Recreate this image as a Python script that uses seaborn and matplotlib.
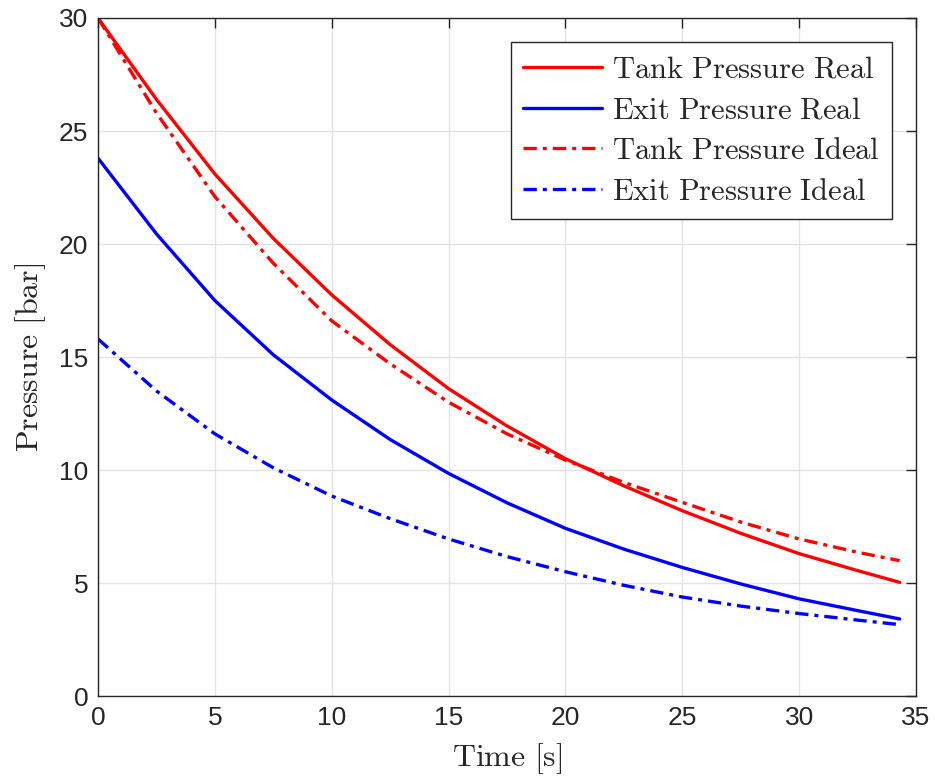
import numpy as np
import pandas as pd
import seaborn as sns
import matplotlib.pyplot as plt

time_s = [0, 2.5, 5, 7.5, 10, 12.5, 15, 17.5, 20, 22.5, 25, 27.5, 30, 32.5, 34.3]
tank_real = [30, 26.4, 23.1, 20.25, 17.75, 15.55, 13.6, 11.95, 10.5, 9.3, 8.2, 7.2, 6.3, 5.55, 5.03]
exit_real = [23.8, 20.45, 17.5, 15.1, 13.1, 11.35, 9.85, 8.55, 7.42, 6.5, 5.69, 4.96, 4.3, 3.78, 3.41]
tank_ideal = [30, 25.8, 22.1, 19.15, 16.6, 14.7, 13.0, 11.6, 10.44, 9.45, 8.57, 7.7, 6.95, 6.36, 5.99]
exit_ideal = [15.8, 13.5, 11.6, 10.1, 8.85, 7.85, 6.95, 6.17, 5.5, 4.9, 4.38, 3.98, 3.65, 3.36, 3.16]

series = [
    ("Tank Pressure Real", tank_real, "#ff0000", "-"),
    ("Exit Pressure Real", exit_real, "#0000ff", "-"),
    ("Tank Pressure Ideal", tank_ideal, "#ff0000", "-."),
    ("Exit Pressure Ideal", exit_ideal, "#0000ff", "-."),
]

sns.set_style("white")
plt.rcParams["font.family"] = ["Liberation Sans", "DejaVu Sans"]
plt.rcParams["mathtext.fontset"] = "cm"

fig = plt.figure(figsize=(9.35, 7.79), dpi=100)
ax = fig.add_axes([0.1048, 0.1065, 0.8749, 0.8704])

for name, vals, col, ls in series:
    df = pd.DataFrame({"t": time_s, "p": vals})
    sns.lineplot(data=df, x="t", y="p", ax=ax, color=col, linewidth=2.4,
                 label=r"$\mathrm{" + name.replace(" ", r"\ ") + "}$")
    if ls == "-.":
        ax.lines[-1].set_dashes([4, 1.8, 1.2, 1.8])

ax.set_xlim(0, 35)
ax.set_ylim(0, 30)
ax.set_xticks(np.arange(0, 36, 5))
ax.set_yticks(np.arange(0, 31, 5))
ax.grid(True, color="#e3e3e3", linewidth=1)
ax.set_axisbelow(True)
ax.tick_params(direction="in", length=7, width=1, labelsize=19, colors="#262626",
               top=True, right=True, pad=7)
for s in ax.spines.values():
    s.set_color("#262626")
    s.set_linewidth(1)

ax.set_xlabel(r"$\mathrm{Time\ [s]}$", fontsize=23, labelpad=8)
ax.set_ylabel(r"$\mathrm{Pressure\ [bar]}$", fontsize=23, labelpad=8)

leg = ax.legend(loc="upper right", fontsize=22, frameon=True, fancybox=False,
                framealpha=1, edgecolor="#262626", handlelength=2.6,
                borderaxespad=0.8, labelspacing=0.35, handletextpad=0.3,
                borderpad=0.4)
leg.get_frame().set_linewidth(1)

fig.savefig("out.png", dpi=100)
